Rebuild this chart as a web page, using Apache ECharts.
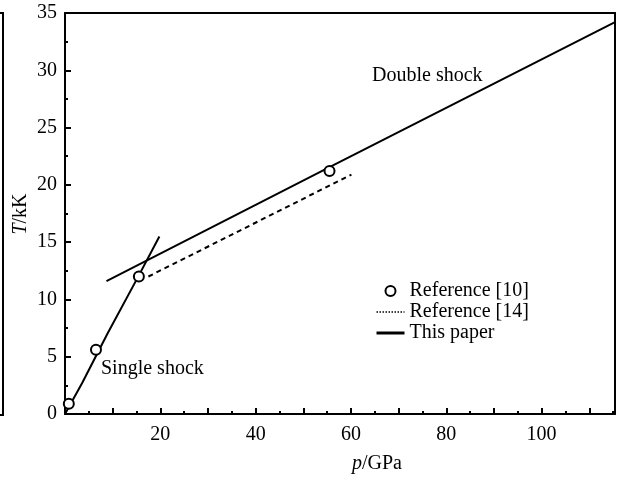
<!DOCTYPE html>
<html>
<head>
<meta charset="utf-8">
<script src="https://cdn.jsdelivr.net/npm/echarts@6/dist/echarts.min.js"></script>
<style>html,body{margin:0;padding:0;background:#fff}#c{width:622px;height:478px}</style>
</head>
<body>
<div id="c"></div>
<script>
// Data
const reference10 = [[0.8, 0.9], [6.5, 5.6], [15.5, 12.0], [55.5, 21.2]];
const reference14 = [[17.5, 12.0], [60.1, 20.9]];
const singleShock = [[0, 0], [3.6, 2.7], [8.9, 7.0], [15.5, 12.1], [19.8, 15.5]];
const doubleShock = [[8.7, 11.6], [55.5, 21.55], [115.4, 34.2]];
const xTickLabels = [20, 40, 60, 80, 100];
const yTickLabels = [0, 5, 10, 15, 20, 25, 30, 35];

const FONT = 'Liberation Serif';
const chart = echarts.init(document.getElementById('c'));
const axisLine = { show: true, onZero: false, lineStyle: { color: '#000', width: 2 } };

chart.setOption({
  animation: false,
  backgroundColor: '#fff',
  textStyle: { fontFamily: FONT, color: '#000' },
  grid: { left: 65, right: 7, top: 13, bottom: 64, containLabel: false, outerBoundsMode: 'none' },
  legend: {
    left: 370, top: 276, orient: 'vertical', itemGap: 1, itemWidth: 28, itemHeight: 10,
    textStyle: { fontFamily: FONT, fontSize: 20, color: '#000' },
    data: [
      { name: 'Reference [10]', icon: 'circle', itemStyle: { color: '#fff', borderColor: '#000', borderWidth: 2 } },
      { name: 'Reference [14]', itemStyle: { opacity: 0 }, lineStyle: { type: [1.5, 1.5], width: 1.5 } },
      { name: 'This paper', itemStyle: { opacity: 0 }, lineStyle: { width: 3 } }
    ]
  },
  xAxis: [{
    type: 'value', min: 0, max: 115.4, interval: 10,
    axisLine: axisLine,
    axisTick: { show: true, inside: true, length: 6, lineStyle: { color: '#000', width: 2 } },
    minorTick: { show: true, splitNumber: 2, length: 3, lineStyle: { color: '#000', width: 2 } },
    splitLine: { show: false },
    axisLabel: {
      fontFamily: FONT, fontSize: 20, color: '#000', margin: 11,
      formatter: v => xTickLabels.includes(v) ? String(v) : ''
    },
    name: '{i|p}/GPa', nameLocation: 'middle', nameGap: 40,
    nameTextStyle: { fontFamily: FONT, fontSize: 20, color: '#000', padding: [0, 0, 0, 74],
      rich: { i: { fontFamily: FONT, fontSize: 20, fontStyle: 'italic', color: '#000' } } }
  }, {
    type: 'value', position: 'top', min: 0, max: 115.4,
    axisLine: axisLine, axisTick: { show: false }, axisLabel: { show: false }, splitLine: { show: false }
  }],
  yAxis: [{
    type: 'value', min: 0, max: 35, interval: 5,
    axisLine: axisLine,
    axisTick: { show: true, inside: true, length: 6, lineStyle: { color: '#000', width: 2 } },
    minorTick: { show: true, splitNumber: 2, length: 3, lineStyle: { color: '#000', width: 2 } },
    splitLine: { show: false },
    axisLabel: {
      fontFamily: FONT, fontSize: 20, color: '#000', margin: 8,
      formatter: v => yTickLabels.includes(v) ? String(v) : ''
    }
  }, {
    type: 'value', position: 'right', min: 0, max: 35,
    axisLine: axisLine, axisTick: { show: false }, axisLabel: { show: false }, splitLine: { show: false }
  }],
  series: [
    {
      name: 'Reference [10]', type: 'scatter', data: reference10,
      symbol: 'circle', symbolSize: 10,
      itemStyle: { color: '#fff', borderColor: '#000', borderWidth: 2, opacity: 1 }, z: 5
    },
    {
      name: 'Reference [14]', type: 'line', data: reference14, symbol: 'none',
      lineStyle: { color: '#000', width: 2, type: [5, 4] }, itemStyle: { color: '#000' }
    },
    {
      name: 'This paper', type: 'line', data: singleShock, symbol: 'none',
      lineStyle: { color: '#000', width: 2 }, itemStyle: { color: '#000' }
    },
    {
      name: 'This paper', type: 'line', data: doubleShock, symbol: 'none',
      lineStyle: { color: '#000', width: 2 }, itemStyle: { color: '#000' }
    }
  ],
  graphic: [
    { type: 'text', left: 372, top: 66, style: { text: 'Double shock', fontFamily: FONT, fontSize: 20, fill: '#000' } },
    { type: 'text', left: 101, top: 359, style: { text: 'Single shock', fontFamily: FONT, fontSize: 20, fill: '#000' } },
    { type: 'text', x: 21, y: 214, rotation: Math.PI / 2,
      style: { text: '{i|T}/kK', fontFamily: FONT, fontSize: 20, fill: '#000', align: 'center', verticalAlign: 'middle',
        rich: { i: { fontFamily: FONT, fontSize: 20, fontStyle: 'italic', fill: '#000' } } } },
    { type: 'polyline', shape: { points: [[0, 13], [3, 13], [3, 415], [0, 415]] }, style: { stroke: '#000', lineWidth: 2, fill: null } }
  ]
});
</script>
</body>
</html>
